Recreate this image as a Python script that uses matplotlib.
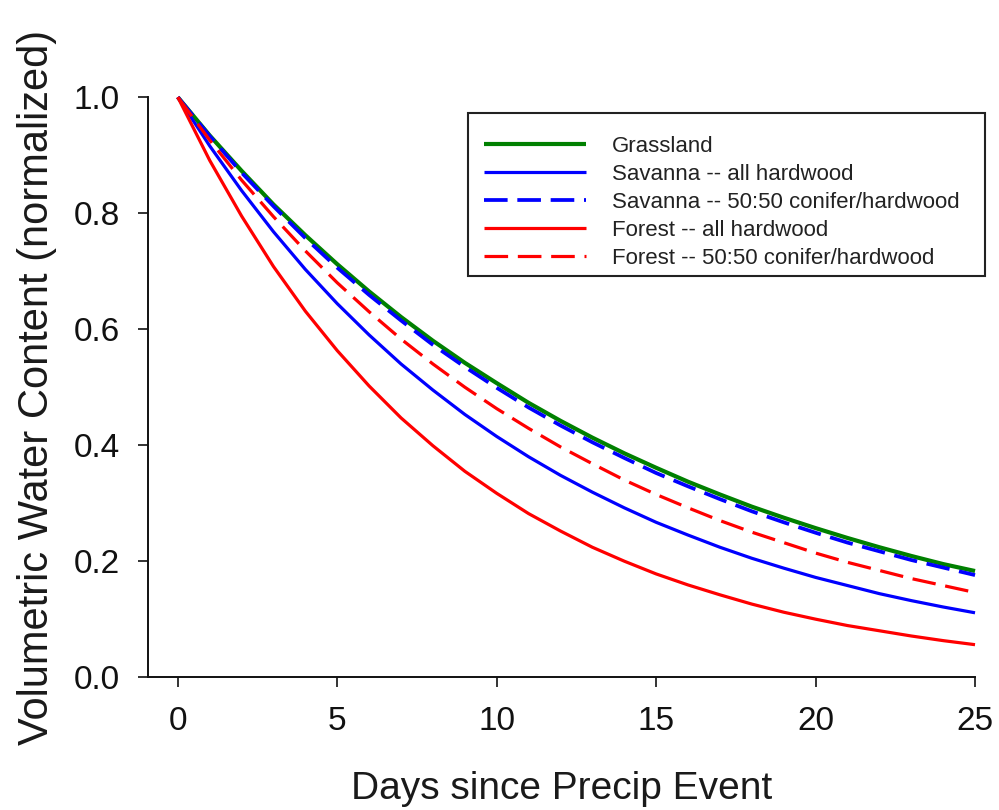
import matplotlib
matplotlib.use("Agg")
import matplotlib.pyplot as plt
from matplotlib.patches import Rectangle

plt.rcParams['font.family'] = ['Liberation Sans', 'DejaVu Sans']
plt.rcParams['lines.scale_dashes'] = False

days = list(range(26))

grassland = [1.000, 0.934, 0.873, 0.815, 0.762, 0.712, 0.665, 0.621, 0.580, 0.542,
             0.507, 0.473, 0.442, 0.413, 0.386, 0.361, 0.337, 0.315, 0.294, 0.275,
             0.257, 0.240, 0.224, 0.209, 0.195, 0.183]
savanna_hardwood = [1.000, 0.916, 0.839, 0.768, 0.703, 0.644, 0.590, 0.540, 0.495, 0.453,
                    0.415, 0.380, 0.348, 0.319, 0.292, 0.267, 0.245, 0.224, 0.205, 0.188,
                    0.172, 0.158, 0.144, 0.132, 0.121, 0.111]
savanna_mixed = [1.000, 0.933, 0.870, 0.812, 0.757, 0.706, 0.659, 0.615, 0.573, 0.535,
                 0.499, 0.465, 0.434, 0.405, 0.378, 0.352, 0.329, 0.307, 0.286, 0.267,
                 0.249, 0.232, 0.217, 0.202, 0.189, 0.176]
forest_hardwood = [1.000, 0.891, 0.795, 0.708, 0.631, 0.563, 0.502, 0.447, 0.399, 0.355,
                   0.317, 0.282, 0.252, 0.224, 0.200, 0.178, 0.159, 0.142, 0.126, 0.112,
                   0.100, 0.089, 0.080, 0.071, 0.063, 0.056]
forest_mixed = [1.000, 0.926, 0.857, 0.794, 0.735, 0.680, 0.630, 0.583, 0.540, 0.500,
                0.463, 0.429, 0.397, 0.368, 0.340, 0.315, 0.292, 0.270, 0.250, 0.232,
                0.214, 0.198, 0.184, 0.170, 0.158, 0.146]

labels = ["Grassland", "Savanna -- all hardwood", "Savanna -- 50:50 conifer/hardwood",
          "Forest -- all hardwood", "Forest -- 50:50 conifer/hardwood"]
series = [grassland, savanna_hardwood, savanna_mixed, forest_hardwood, forest_mixed]
colors = ["#008000", "#0000ff", "#0000ff", "#ff0000", "#ff0000"]
dashed = [False, False, True, False, True]
widths = [3.0, 2.3, 2.7, 2.3, 2.3]

x_ticks = [0, 5, 10, 15, 20, 25]
y_ticks = [0.0, 0.2, 0.4, 0.6, 0.8, 1.0]

fig = plt.figure(figsize=(9.99, 8.10), dpi=100)
ax = fig.add_axes([0.148, 0.164, 0.828, 0.716])

for vals, lab, c, d, w in zip(series, labels, colors, dashed, widths):
    ln, = ax.plot(days, vals, color=c, lw=w, label=lab, clip_on=False,
                  solid_capstyle='butt', dash_capstyle='butt')
    if d:
        ln.set_dashes((17, 7))

ax.set_xlim(-0.94, 25)
ax.set_ylim(0, 1.0)
ax.set_xticks(x_ticks)
ax.set_xticklabels([str(v) for v in x_ticks])
ax.set_yticks(y_ticks)
ax.set_yticklabels([f"{v:.1f}" for v in y_ticks])

for s in ['top', 'right']:
    ax.spines[s].set_visible(False)
for s in ['left', 'bottom']:
    ax.spines[s].set_linewidth(1.4)
    ax.spines[s].set_color('#111111')

ax.tick_params(axis='both', direction='out', length=7, width=1.2, colors='#111111',
               labelsize=24, labelcolor='#111111')
ax.tick_params(axis='x', pad=14)
ax.tick_params(axis='y', pad=13)

ax.set_xlabel("Days since Precip Event", fontsize=28, color='#1a1a1a', labelpad=24)
ax.set_ylabel("Volumetric Water Content (normalized)", fontsize=30, color='#1a1a1a', labelpad=12)

leg = ax.legend(loc='upper left', bbox_to_anchor=(0.4685, 0.8519),
                bbox_transform=fig.transFigure, borderaxespad=0,
                fontsize=16, frameon=False, handlelength=4.6, handletextpad=1.15,
                labelspacing=0.31, borderpad=0.72)
for t in leg.get_texts():
    t.set_color('#222222')

frame = Rectangle((0.4685, 0.6593), 0.5175, 0.2012, transform=fig.transFigure,
                  fill=False, edgecolor='#222222', linewidth=1.5)
fig.add_artist(frame)

fig.savefig("out.png", dpi=100)
